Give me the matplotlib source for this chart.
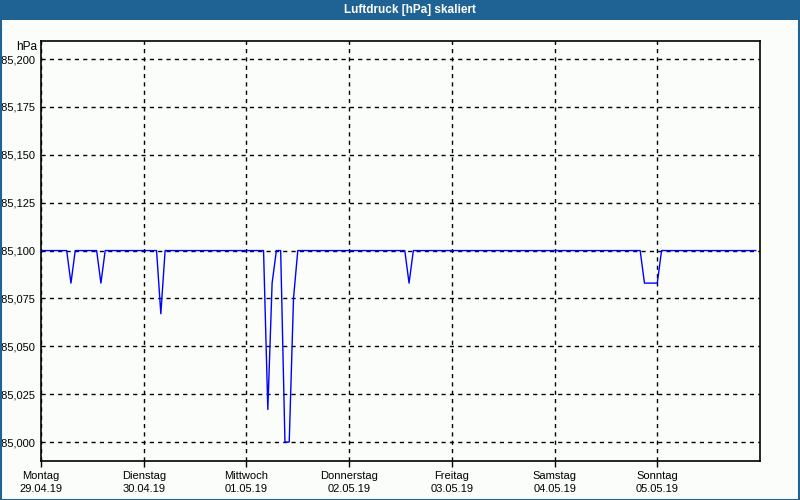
import numpy as np
import matplotlib
matplotlib.use('Agg')
import matplotlib.pyplot as plt
from matplotlib.patches import Rectangle
from matplotlib.ticker import FuncFormatter

plt.rcParams['font.family'] = ['Liberation Sans', 'DejaVu Sans']

# hourly pressure readings, only the hours where the value changes
HOURS = [0, 6, 7, 8, 13, 14, 15, 27, 28, 29, 52, 53, 54, 55, 56, 57, 58,
         59, 60, 85, 86, 87, 140, 141, 144, 145, 167]
PRESSURE = [985.100, 985.100, 985.083, 985.100, 985.100, 985.083, 985.100,
            985.100, 985.067, 985.100, 985.100, 985.017, 985.083, 985.100,
            985.100, 985.000, 985.000, 985.075, 985.100, 985.100, 985.083,
            985.100, 985.100, 985.083, 985.083, 985.100, 985.100]

DAY_NAMES = ['Montag', 'Dienstag', 'Mittwoch', 'Donnerstag', 'Freitag',
             'Samstag', 'Sonntag']
DAY_DATES = ['29.04.19', '30.04.19', '01.05.19', '02.05.19', '03.05.19',
             '04.05.19', '05.05.19']
Y_TICKS = [985.000, 985.025, 985.050, 985.075, 985.100, 985.125, 985.150,
           985.175, 985.200]

BAR = '#1f6294'
BG = '#fbfdfb'

W, H = 800, 500
fig = plt.figure(figsize=(W / 100, H / 100), dpi=100, facecolor=BG)

# title bar and window frame
fig.patches.append(Rectangle((0, 1 - 20 / H), 1, 20 / H, transform=fig.transFigure,
                             facecolor=BAR, edgecolor='none', zorder=0))
fig.patches.append(Rectangle((0.5 / W, 0.5 / H), 1 - 1.5 / W, 1 - 1.5 / H,
                             transform=fig.transFigure, facecolor='none',
                             edgecolor=BAR, linewidth=1.5, zorder=5))
fig.text(0.513, 1 - 10.5 / H, 'Luftdruck [hPa] skaliert', color='white',
         fontsize=8.5, fontweight='bold', ha='center', va='center')

ax = fig.add_axes([41 / W, 1 - 461 / H, (760 - 41) / W, (461 - 40.5) / H])
ax.set_facecolor(BG)

ax.plot(HOURS, PRESSURE, color='#0000ff', linewidth=1.0, zorder=3)

ax.set_xlim(0, 168)
ax.set_ylim(984.9901, 985.2097)

ax.set_xticks([24 * i for i in range(len(DAY_NAMES))])
ax.set_xticklabels([f'{n}\n{d}' for n, d in zip(DAY_NAMES, DAY_DATES)],
                   fontsize=8, linespacing=1.45)
ax.set_yticks(Y_TICKS)
ax.yaxis.set_major_formatter(FuncFormatter(lambda v, p: f'{v:.3f}'.replace('.', ',')))
ax.tick_params(axis='x', length=4, width=1, color='black', pad=3)
ax.tick_params(axis='y', length=0, pad=4, labelsize=8)

ax.grid(True, color='black', linestyle=(0, (3, 3)), linewidth=1.0, zorder=1)
for s in ax.spines.values():
    s.set_color('black')
    s.set_linewidth(1.2)

fig.text(37 / W, 1 - 46.5 / H, 'hPa', fontsize=8.5, ha='right', va='center')

fig.savefig('out.png', dpi=100, facecolor=BG)
